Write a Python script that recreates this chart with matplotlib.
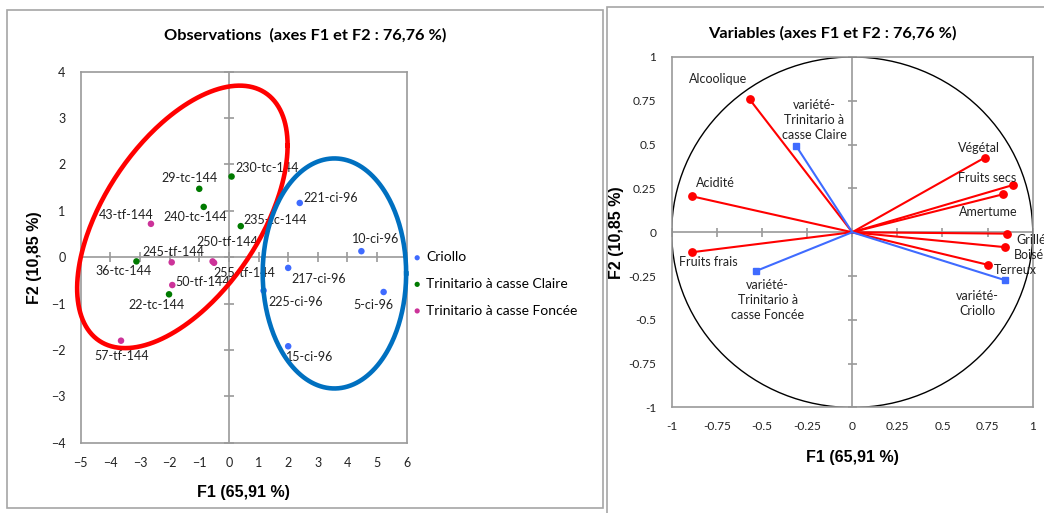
import numpy as np
import matplotlib
matplotlib.use("Agg")
import matplotlib.pyplot as plt
from matplotlib.patches import Rectangle, Circle

plt.rcParams['font.family'] = ['Lato', 'DejaVu Sans']

# --- Observations (individus) ---
obs_names = ["10-ci-96", "221-ci-96", "217-ci-96", "225-ci-96", "5-ci-96", "15-ci-96",
             "230-tc-144", "29-tc-144", "240-tc-144", "235-tc-144", "36-tc-144", "22-tc-144",
             "43-tf-144", "245-tf-144", "250-tf-144", "255-tf-144", "50-tf-144", "57-tf-144"]
obs_f1 = [4.47, 2.39, 2.00, 1.17, 5.22, 2.00,
          0.09, -1.00, -0.85, 0.40, -3.12, -2.02,
          -2.63, -1.93, -0.55, -0.50, -1.91, -3.64]
obs_f2 = [0.13, 1.17, -0.23, -0.72, -0.75, -1.92,
          1.74, 1.475, 1.085, 0.67, -0.09, -0.80,
          0.72, -0.11, -0.09, -0.12, -0.60, -1.80]
obs_group = ["Criollo"] * 6 + ["Trinitario à casse Claire"] * 6 + ["Trinitario à casse Foncée"] * 6
groups = ["Criollo", "Trinitario à casse Claire", "Trinitario à casse Foncée"]

# --- Variables (cercle des corrélations) ---
var_names = ["Alcoolique", "Acidité", "Fruits frais", "Végétal", "Fruits secs",
             "Amertume", "Grillé", "Boisé", "Terreux"]
var_f1 = [-0.568, -0.887, -0.887, 0.733, 0.889, 0.833, 0.858, 0.845, 0.752]
var_f2 = [0.758, 0.205, -0.114, 0.425, 0.269, 0.216, -0.008, -0.085, -0.186]

sup_names = ["variété-\nTrinitario à\ncasse Claire", "variété-\nTrinitario à\ncasse Foncée",
             "variété-\nCriollo"]
sup_f1 = [-0.311, -0.535, 0.845]
sup_f2 = [0.493, -0.222, -0.273]

# --- styles ---
group_colors = {"Criollo": "#3F6BFF", "Trinitario à casse Claire": "#007A00",
                "Trinitario à casse Foncée": "#CC3399"}
axis_gray = "#9A9A9A"
red = "#FF0000"
blue = "#3F6BFF"

# label offsets in pixels (dx, dy up) and alignment
obs_offsets = {
    "230-tc-144": (4, 9, "left"), "29-tc-144": (-10, 11, "center"),
    "240-tc-144": (-8, -10, "center"), "43-tf-144": (-25, 9, "center"),
    "235-tc-144": (3, 6, "left"), "221-ci-96": (4, 5, "left"),
    "10-ci-96": (14, 12, "center"), "250-tf-144": (15, 19, "center"),
    "245-tf-144": (2, 10, "center"), "36-tc-144": (-13, -10, "center"),
    "255-tf-144": (-1, -10, "left"), "50-tf-144": (3, 3, "left"),
    "22-tc-144": (-12, -11, "center"), "57-tf-144": (1, -15, "center"),
    "217-ci-96": (3, -11, "left"), "225-ci-96": (5, -11, "left"),
    "5-ci-96": (-10, -13, "center"), "15-ci-96": (-2, -11, "left"),
}
var_offsets = {
    "Alcoolique": (-32, 20, "center"), "Acidité": (23, 13, "center"),
    "Fruits frais": (16, -10, "center"), "Végétal": (-6, 10, "center"),
    "Fruits secs": (-26, 7, "center"), "Amertume": (-14, -18, "center"),
    "Grillé": (9, -6, "left"), "Boisé": (9, -8, "left"), "Terreux": (6, -5, "left"),
}
sup_offsets = [(18, 26), (12, -29), (-27, -23)]

fig = plt.figure(figsize=(10.44, 5.13), dpi=100)

# panel frames
fig.add_artist(Rectangle((0.0067, 0.0097), 0.571, 0.9708, transform=fig.transFigure,
                         fill=False, edgecolor="#A6A6A6", lw=1.2))
fig.add_artist(Rectangle((0.5814, -0.02), 0.45, 1.0064, transform=fig.transFigure,
                         fill=False, edgecolor="#A6A6A6", lw=1.2))


def style_axes(ax, xticks, yticks, tick_px, labelsize):
    for s in ax.spines.values():
        s.set_color(axis_gray)
        s.set_linewidth(1.2)
    ax.axhline(0, color=axis_gray, lw=1.2, zorder=1)
    ax.axvline(0, color=axis_gray, lw=1.2, zorder=1)
    ms = tick_px * 72 / 100
    ax.plot(xticks, np.zeros(len(xticks)), ls="none", marker="|", ms=ms, mew=1.2,
            color=axis_gray, zorder=1, clip_on=False)
    ax.plot(np.zeros(len(yticks)), yticks, ls="none", marker="_", ms=ms, mew=1.2,
            color=axis_gray, zorder=1, clip_on=False)
    ax.set_xticks(xticks)
    ax.set_yticks(yticks)
    ax.tick_params(length=0, labelsize=labelsize, colors="#222222")


# ---------------- Observations ----------------
ax1 = fig.add_axes([0.0773, 0.1370, 0.3123, 0.7232])
ax1.set_xlim(-5, 6)
ax1.set_ylim(-4, 4)
style_axes(ax1, np.arange(-5, 7), np.arange(-4, 5), 10, 9)
ax1.tick_params(axis="x", pad=10)
ax1.tick_params(axis="y", pad=11)

f1 = np.array(obs_f1)
f2 = np.array(obs_f2)
g = np.array(obs_group)
for grp in groups:
    m = g == grp
    ax1.scatter(f1[m], f2[m], s=22, color=group_colors[grp], label=grp, zorder=3,
                edgecolors="none")
for name, x, y in zip(obs_names, obs_f1, obs_f2):
    dx, dy, ha = obs_offsets[name]
    ax1.annotate(name, (x, y), xytext=(dx, dy), textcoords="offset pixels",
                 ha=ha, va="center", fontsize=9, color="#222222", zorder=4)

# group ellipses
t = np.linspace(0, 2 * np.pi, 300)
ellipses = [((-1.57, 0.87), 3.55, 2.83, 1.54, red),
            ((3.56, -0.35), 2.42, 2.48, 0.0, "#0070C0")]
for (cx, cy), ex, ey, yx, col in ellipses:
    ax1.plot(cx + ex * np.cos(t), cy + yx * np.cos(t) + np.sqrt(ey**2 - yx**2) * np.sin(t),
             color=col, lw=3.3, zorder=5, clip_on=False)

ax1.set_xlabel("F1 (65,91 %)", fontsize=11.5, fontweight="bold", family="Liberation Sans")
ax1.set_ylabel("F2 (10,85 %)", fontsize=11.5, fontweight="bold", family="Liberation Sans")
ax1.xaxis.set_label_coords(0.5, -0.114)
ax1.yaxis.set_label_coords(-0.12, 0.5)

leg = ax1.legend(loc="center left", bbox_to_anchor=(0.3956, 0.4464),
                 bbox_transform=fig.transFigure, frameon=False, fontsize=10,
                 handlelength=0.6, handletextpad=0.35, borderpad=0, borderaxespad=0,
                 labelspacing=1.05, markerscale=0.8)

fig.text(305 / 1044, 1 - 35 / 513, "Observations  (axes F1 et F2 : 76,76 %)",
         ha="center", va="center", fontsize=11.8, fontweight="bold")

# ---------------- Variables ----------------
ax2 = fig.add_axes([0.6434, 0.2057, 0.3458, 0.6832])
ax2.set_xlim(-1, 1)
ax2.set_ylim(-1, 1)
ticks = np.arange(-1, 1.01, 0.25)
style_axes(ax2, ticks, ticks, 9, 8.6)
fmt = lambda v: "0" if abs(v) < 1e-9 else ("%g" % v)
ax2.set_xticklabels([fmt(v) for v in ticks])
ax2.set_yticklabels([fmt(v) for v in ticks])
ax2.tick_params(axis="x", pad=10)
ax2.tick_params(axis="y", pad=11)

ax2.add_patch(Circle((0, 0), 1, fill=False, edgecolor="black", lw=1, zorder=2))

for x, y in zip(var_f1, var_f2):
    ax2.plot([0, x], [0, y], color=red, lw=1.5, marker="o", ms=5.3, markevery=[1],
             zorder=3)
for x, y in zip(sup_f1, sup_f2):
    ax2.plot([0, x], [0, y], color=blue, lw=1.5, marker="s", ms=5, markevery=[1],
             zorder=3)

for name, x, y in zip(var_names, var_f1, var_f2):
    dx, dy, ha = var_offsets[name]
    ax2.annotate(name, (x, y), xytext=(dx, dy), textcoords="offset pixels",
                 ha=ha, va="center", fontsize=9, color="#222222", zorder=4,
                 annotation_clip=False)
for name, x, y, (dx, dy) in zip(sup_names, sup_f1, sup_f2, sup_offsets):
    ax2.annotate(name, (x, y), xytext=(dx, dy), textcoords="offset pixels",
                 ha="center", va="center", fontsize=9, color="#222222", zorder=4,
                 linespacing=1.3, multialignment="center")

ax2.set_xlabel("F1 (65,91 %)", fontsize=11.5, fontweight="bold", family="Liberation Sans")
ax2.set_ylabel("F2 (10,85 %)", fontsize=11.5, fontweight="bold", family="Liberation Sans")
ax2.xaxis.set_label_coords(0.5, -0.121)
ax2.yaxis.set_label_coords(-0.131, 0.5)

fig.text(832 / 1044, 1 - 33 / 513, "Variables (axes F1 et F2 : 76,76 %)",
         ha="center", va="center", fontsize=11.8, fontweight="bold")

fig.savefig("out.png", dpi=100)
